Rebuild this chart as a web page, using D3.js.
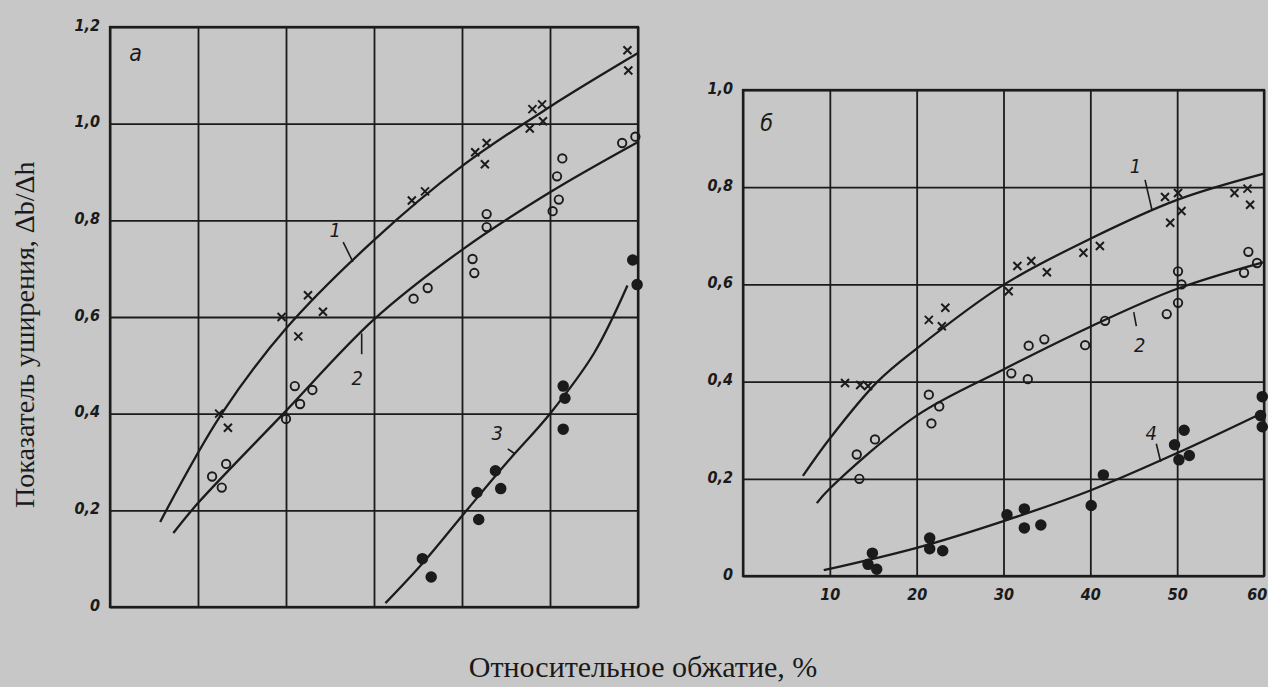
<!DOCTYPE html>
<html>
<head>
<meta charset="utf-8">
<script src="https://cdn.jsdelivr.net/npm/d3@7"></script>
<style>
  body { margin: 0; background: #c7c7c7; }
  svg { display: block; }
  .tick text { font-family: 'DejaVu Sans Condensed', 'DejaVu Sans', sans-serif; font-style: italic; font-weight: bold; font-size: 16px; fill: #1a1a1a; }
  .title { font-family: 'Liberation Serif', 'DejaVu Serif', serif; fill: #1a1a1a; }
  .note { font-family: 'DejaVu Sans Condensed', 'DejaVu Sans', sans-serif; font-style: italic; font-size: 20px; fill: #1a1a1a; }
</style>
</head>
<body>
<svg id="chart" width="1268" height="687"></svg>
<script>
// shared x grid (relative reduction, %)
const xTicks = [0, 10, 20, 30, 40, 50, 60];
const xLabelsB = ['', '10', '20', '30', '40', '50', '60'];

const yTicksA = [0, 0.2, 0.4, 0.6, 0.8, 1.0, 1.2];
const yLabelsA = ['0', '0,2', '0,4', '0,6', '0,8', '1,0', '1,2'];
const yTicksB = [0, 0.2, 0.4, 0.6, 0.8, 1.0];
const yLabelsB = ['0', '0,2', '0,4', '0,6', '0,8', '1,0'];

// panel a: measured points [x, y]
const a1Points = [[12.4, 0.40], [13.4, 0.371], [19.5, 0.60], [21.4, 0.56], [22.5, 0.645], [24.2, 0.611],
  [34.3, 0.841], [35.8, 0.86], [41.5, 0.941], [42.8, 0.96], [42.6, 0.916],
  [48.0, 1.03], [49.1, 1.04], [47.7, 0.99], [49.2, 1.005], [58.8, 1.152], [58.9, 1.11]];
const a2Points = [[11.6, 0.27], [12.7, 0.247], [13.2, 0.296], [20.0, 0.389], [21.0, 0.457], [21.6, 0.42], [23.0, 0.449],
  [34.5, 0.638], [36.1, 0.66], [41.2, 0.72], [41.4, 0.691], [42.8, 0.813], [42.8, 0.786],
  [50.3, 0.819], [51.0, 0.843], [51.4, 0.928], [50.8, 0.891], [58.2, 0.96], [59.7, 0.973]];
const a3Points = [[35.5, 0.10], [36.5, 0.062], [41.7, 0.237], [41.9, 0.181], [43.8, 0.282], [44.4, 0.245],
  [51.5, 0.457], [51.7, 0.432], [51.5, 0.368], [59.4, 0.718], [59.9, 0.667]];

// panel a: drawn curves
const a1Curve = [[5.7, 0.176], [12.7, 0.40], [20, 0.576], [30, 0.759], [40, 0.912], [50, 1.035], [60, 1.146]];
const a2Curve = [[7.2, 0.153], [10, 0.215], [19.7, 0.40], [30, 0.595], [40, 0.739], [50, 0.858], [60, 0.962]];
const a3Curve = [[31.3, 0.008], [35.5, 0.09], [40.3, 0.195], [45, 0.297], [50, 0.40], [55, 0.525], [58.8, 0.665]];

// panel б: measured points
const b1Points = [[11.75, 0.397], [13.5, 0.393], [14.4, 0.391], [21.4, 0.527], [23.3, 0.552], [22.9, 0.514],
  [30.6, 0.586], [31.6, 0.638], [33.2, 0.648], [35.0, 0.625], [39.2, 0.665], [41.1, 0.679],
  [48.6, 0.78], [50.1, 0.788], [49.2, 0.727], [50.5, 0.751], [56.6, 0.788], [58.1, 0.797], [58.4, 0.764]];
const b2Points = [[13.1, 0.25], [15.2, 0.281], [13.4, 0.20], [21.4, 0.373], [22.6, 0.349], [21.7, 0.314],
  [30.9, 0.417], [32.8, 0.405], [32.9, 0.474], [34.7, 0.487], [39.4, 0.475], [41.7, 0.525],
  [48.8, 0.539], [50.1, 0.627], [50.5, 0.60], [50.1, 0.562], [58.2, 0.667], [59.2, 0.644], [57.7, 0.624]];
const b4Points = [[14.9, 0.047], [14.4, 0.024], [15.4, 0.014], [21.5, 0.078], [21.5, 0.056], [23.0, 0.052],
  [30.4, 0.126], [32.4, 0.138], [32.4, 0.099], [34.3, 0.105], [40.1, 0.145], [41.5, 0.208],
  [49.7, 0.27], [50.8, 0.30], [50.2, 0.239], [51.4, 0.248], [59.8, 0.369], [59.6, 0.33], [59.8, 0.307]];

// panel б: drawn curves
const b1Curve = [[6.9, 0.206], [10, 0.283], [15.5, 0.40], [20, 0.468], [30, 0.599], [40, 0.694], [50, 0.774], [60, 0.828]];
const b2Curve = [[8.5, 0.15], [10, 0.18], [20, 0.33], [30, 0.425], [40, 0.513], [50, 0.591], [60, 0.646]];
const b4Curve = [[9.3, 0.012], [20, 0.058], [30, 0.113], [40, 0.176], [50, 0.253], [60, 0.337]];

// curve numbers with leader lines: text at [x, y], leader from..to
const notesA = [
  { text: '1', at: [25.6, 0.765], leader: [[26.5, 0.755], [27.6, 0.714]] },
  { text: '2', at: [28.1, 0.46], leader: [[28.6, 0.523], [28.6, 0.566]] },
  { text: '3', at: [44.0, 0.345], leader: [[45.2, 0.327], [46.0, 0.317]] }
];
const notesB = [
  { text: '1', at: [45.2, 0.83], leader: [[46.3, 0.815], [47.1, 0.753]] },
  { text: '2', at: [45.7, 0.46], leader: [[45.3, 0.514], [45.0, 0.543]] },
  { text: '4', at: [47.0, 0.28], leader: [[47.6, 0.272], [48.1, 0.235]] }
];

const svg = d3.select('#chart');
const ink = '#1b1b1b';

function drawPanel(p) {
  const x = d3.scaleLinear().domain([0, 60]).range([p.left, p.right]);
  const y = d3.scaleLinear().domain([0, p.yMax]).range([p.bottom, p.top]);
  const g = svg.append('g');

  // Y grid + labels
  const yAxis = g.append('g')
    .attr('transform', `translate(${p.left},0)`)
    .call(d3.axisLeft(y).tickValues(p.yTicks).tickSize(-(p.right - p.left)).tickPadding(10)
      .tickFormat((d, i) => p.yLabels[i]));
  // X grid (+ labels on panel б)
  const xAxis = g.append('g')
    .attr('transform', `translate(0,${p.bottom})`)
    .call(d3.axisBottom(x).tickValues(xTicks).tickSize(-(p.bottom - p.top)).tickPadding(13)
      .tickFormat((d, i) => p.xLabels ? p.xLabels[i] : ''));

  [yAxis, xAxis].forEach(a => {
    a.select('.domain').remove();
    a.selectAll('.tick line').attr('stroke', ink).attr('stroke-width', 1.8);
  });
  yAxis.selectAll('.tick text').attr('dy', '0.2em');
  // last label sits at the page edge, keep it inside
  xAxis.selectAll('.tick text').filter(d => d === 60).attr('dx', '-0.45em');

  // frame
  g.append('rect')
    .attr('x', p.left).attr('y', p.top)
    .attr('width', p.right - p.left).attr('height', p.bottom - p.top)
    .attr('fill', 'none').attr('stroke', ink).attr('stroke-width', 2.3);

  // panel letter
  g.append('text').attr('class', 'note')
    .attr('x', x(p.letterAt[0])).attr('y', y(p.letterAt[1]))
    .style('font-size', '23px')
    .text(p.letter);

  const line = d3.line().x(d => x(d[0])).y(d => y(d[1])).curve(d3.curveCatmullRom.alpha(0.5));

  p.series.forEach(s => {
    g.append('path').datum(s.curve)
      .attr('d', line)
      .attr('fill', 'none').attr('stroke', ink).attr('stroke-width', 2.3);

    if (s.marker === 'cross') {
      g.selectAll(null).data(s.points).join('path')
        .attr('transform', d => `translate(${x(d[0])},${y(d[1])})`)
        .attr('d', 'M-4,-4L4,4M-4,4L4,-4')
        .attr('stroke', ink).attr('stroke-width', 2).attr('fill', 'none');
    } else {
      g.selectAll(null).data(s.points).join('circle')
        .attr('cx', d => x(d[0])).attr('cy', d => y(d[1]))
        .attr('r', s.marker === 'dot' ? 4.8 : 4.2)
        .attr('fill', s.marker === 'dot' ? ink : 'none')
        .attr('stroke', ink).attr('stroke-width', 1.9);
    }
  });

  // curve numbers
  p.notes.forEach(n => {
    g.append('text').attr('class', 'note')
      .attr('x', x(n.at[0])).attr('y', y(n.at[1]))
      .attr('text-anchor', 'middle')
      .text(n.text);
    g.append('path').datum(n.leader)
      .attr('d', d3.line().x(d => x(d[0])).y(d => y(d[1])))
      .attr('stroke', ink).attr('stroke-width', 1.6).attr('fill', 'none');
  });
}

drawPanel({
  left: 110, right: 638, top: 27, bottom: 607, yMax: 1.2,
  yTicks: yTicksA, yLabels: yLabelsA, xLabels: null,
  letter: 'а', letterAt: [2.2, 1.13],
  notes: notesA,
  series: [
    { points: a1Points, curve: a1Curve, marker: 'cross' },
    { points: a2Points, curve: a2Curve, marker: 'circle' },
    { points: a3Points, curve: a3Curve, marker: 'dot' }
  ]
});

drawPanel({
  left: 743, right: 1264, top: 90, bottom: 576, yMax: 1.0,
  yTicks: yTicksB, yLabels: yLabelsB, xLabels: xLabelsB,
  letter: 'б', letterAt: [2.0, 0.915],
  notes: notesB,
  series: [
    { points: b1Points, curve: b1Curve, marker: 'cross' },
    { points: b2Points, curve: b2Curve, marker: 'circle' },
    { points: b4Points, curve: b4Curve, marker: 'dot' }
  ]
});

// axis titles
svg.append('text').attr('class', 'title')
  .attr('transform', 'translate(34,508) rotate(-90)')
  .style('font-size', '28px')
  .text('Показатель уширения, Δb/Δh');

svg.append('text').attr('class', 'title')
  .attr('x', 643).attr('y', 677)
  .attr('text-anchor', 'middle')
  .style('font-size', '30px')
  .text('Относительное обжатие, %');
</script>
</body>
</html>
